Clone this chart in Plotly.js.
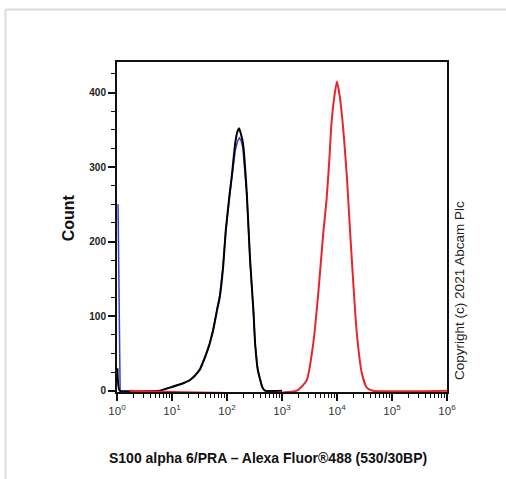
<!DOCTYPE html>
<html>
<head>
<meta charset="utf-8">
<script src="https://cdn.plot.ly/plotly-3.0.1.min.js"></script>
<style>html,body{margin:0;padding:0;background:#fff;}#chart{width:506px;height:479px;}</style>
</head>
<body>
<div id="chart"></div>
<script>
// Fluorescence intensity (x) and event counts (y)
var blackX = [1.02, 1.12, 6, 10, 16, 21, 26, 32, 40, 48, 56, 66, 74, 85, 95, 112, 123, 141, 155, 166, 178, 195, 229, 263, 302, 324, 363, 437, 490, 1000];
var blackY = [30, 0, 0, 5, 10, 14, 20, 28, 45, 62, 81, 108, 126, 166, 215, 265, 290, 332, 348, 352, 345, 332, 265, 175, 108, 64, 28, 5, 0, 0];

var blueX = [1.045, 1.14, 6, 10, 16, 21, 26, 32, 40, 48, 56, 66, 74, 85, 95, 112, 123, 141, 155, 168, 180, 195, 229, 263, 302, 324, 363, 437, 490, 1000];
var blueY = [250, 0, 0, 5, 10, 14, 20, 29, 46, 63, 82, 110, 128, 168, 214, 262, 287, 322, 334, 339, 336, 325, 262, 173, 106, 63, 27, 4, 0, 0];

var redX = [1.7, 1862, 2818, 3715, 4571, 5623, 6457, 7244, 7943, 9120, 10000, 11220, 12882, 15136, 17378, 19953, 22909, 28184, 34674, 44668, 1000000];
var redY = [0, 0, 14, 64, 131, 211, 256, 309, 359, 399, 415, 395, 354, 287, 211, 140, 77, 24, 4, 0, 0];

var xTickVals = [1, 10, 100, 1000, 10000, 100000, 1000000];
var xTickText = ['10<sup>0</sup>', '10<sup>1</sup>', '10<sup>2</sup>', '10<sup>3</sup>', '10<sup>4</sup>', '10<sup>5</sup>', '10<sup>6</sup>'];
var yTickVals = [0, 100, 200, 300, 400];
var yTickText = ['0', '100', '200', '300', '400'];

var xTitle = 'S100 alpha 6/PRA \u2013 Alexa Fluor\u00ae488 (530/30BP)';
var yTitle = 'Count';
var copyright = 'Copyright (c) 2021 Abcam Plc';

var minorX = [];
for (var k = 0; k < 6; k++) {
  for (var m = 2; m <= 9; m++) minorX.push(m * Math.pow(10, k));
}

var traces = [
  {x: blueX, y: blueY, mode: 'lines', line: {color: '#3a3ad8', width: 1.5, shape: 'linear'}, hoverinfo: 'skip'},
  {x: blackX, y: blackY, mode: 'lines', line: {color: '#000000', width: 2, shape: 'spline', smoothing: 0.4}, hoverinfo: 'skip'},
  {x: redX, y: redY, mode: 'lines', line: {color: '#e8242c', width: 2, shape: 'spline', smoothing: 0.5}, hoverinfo: 'skip'}
];

var fontFam = 'Arial, "Liberation Sans", sans-serif';

var layout = {
  width: 506, height: 479,
  margin: {l: 117, r: 59, t: 62, b: 87, pad: 0},
  paper_bgcolor: '#ffffff', plot_bgcolor: '#ffffff',
  showlegend: false,
  xaxis: {
    type: 'log', range: [0, 6], autorange: false,
    tickmode: 'array', tickvals: xTickVals, ticktext: xTickText,
    ticks: 'outside', ticklen: 7, tickwidth: 2, tickcolor: '#111',
    showline: true, linecolor: '#111', linewidth: 2, mirror: true,
    showgrid: false, zeroline: false,
    tickfont: {family: fontFam, size: 11.5, color: '#333'},
    minor: {tickmode: 'array', tickvals: minorX, ticks: 'outside', ticklen: 4, tickwidth: 1, tickcolor: '#111', showgrid: false}
  },
  yaxis: {
    range: [-1.8, 441], autorange: false,
    tickmode: 'array', tickvals: yTickVals, ticktext: yTickText,
    ticks: 'outside', ticklen: 7, tickwidth: 2, tickcolor: '#111',
    showline: true, linecolor: '#111', linewidth: 2, mirror: true,
    showgrid: false, zeroline: false,
    tickfont: {family: fontFam, size: 10, color: '#222', weight: 'bold'},
    minor: {dtick: 25, tick0: 0, ticks: 'outside', ticklen: 4, tickwidth: 1, tickcolor: '#111', showgrid: false}
  },
  annotations: [
    {text: '<b>' + yTitle + '</b>', xref: 'paper', yref: 'paper', x: -0.148, y: 0.527, xanchor: 'center', yanchor: 'middle', textangle: -90, showarrow: false, font: {family: fontFam, size: 16, color: '#111'}},
    {text: '<b>' + xTitle + '</b>', xref: 'paper', yref: 'paper', x: 0.458, y: -0.2, xanchor: 'center', yanchor: 'middle', showarrow: false, font: {family: fontFam, size: 14, color: '#111'}},
    {text: copyright, xref: 'paper', yref: 'paper', x: 1.036, y: 0.309, xanchor: 'center', yanchor: 'middle', textangle: -90, showarrow: false, font: {family: fontFam, size: 13.5, color: '#222'}}
  ],
  shapes: [
    {type: 'line', xref: 'paper', yref: 'paper', x0: -0.338, x1: 1.18, y0: 1.159, y1: 1.159, line: {color: '#dcdcdc', width: 2}},
    {type: 'line', xref: 'paper', yref: 'paper', x0: -0.338, x1: -0.338, y0: 1.159, y1: -0.27, line: {color: '#dcdcdc', width: 2}}
  ]
};

Plotly.newPlot('chart', traces, layout, {staticPlot: true, displayModeBar: false});
</script>
</body>
</html>
